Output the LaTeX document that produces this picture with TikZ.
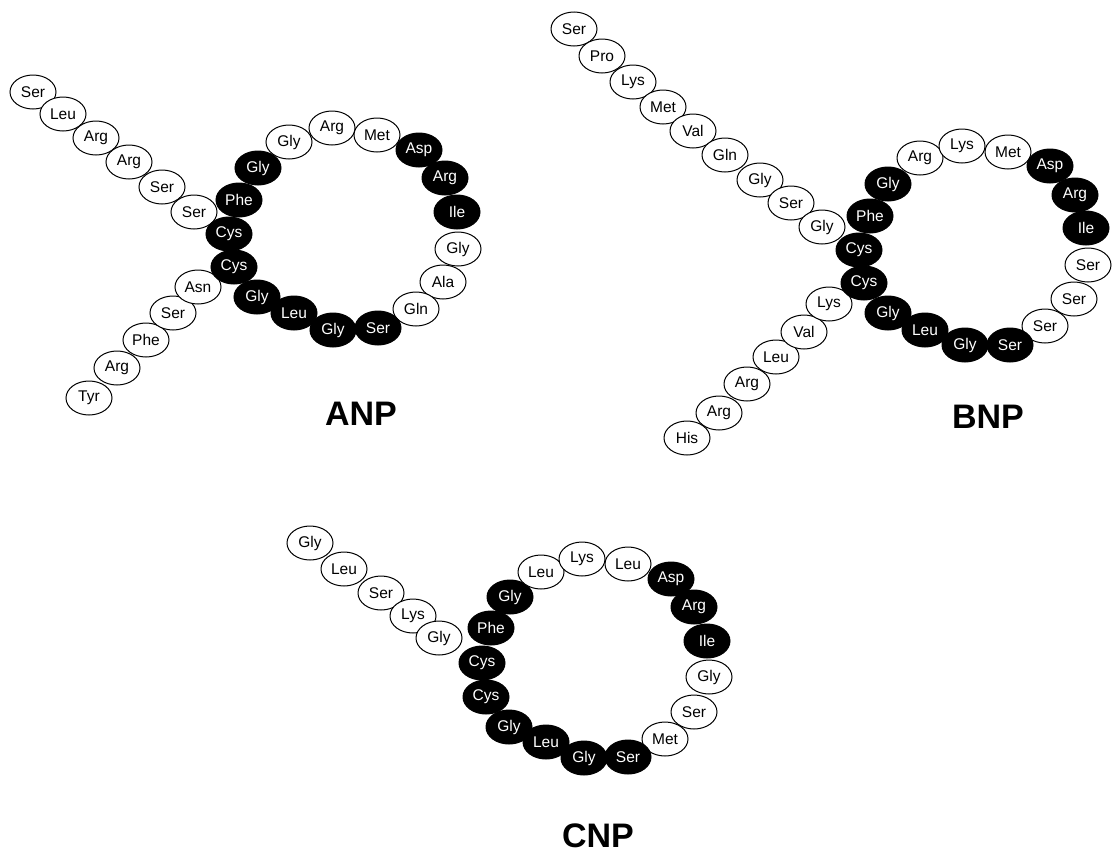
\documentclass[tikz,border=0pt]{standalone}
\usepackage{fontspec}
\setmainfont{Liberation Sans}
\usetikzlibrary{shapes.geometric}
\tikzset{
  res/.style={ellipse, draw=black, line width=1pt, minimum width=46pt, minimum height=34pt, inner sep=0pt, font=\fontsize{15.5}{18}\selectfont},
  wres/.style={res, fill=white, text=black},
  bres/.style={res, fill=black, text=white},
  title/.style={font=\fontsize{34}{40}\selectfont\bfseries}
}
\begin{document}
\begin{tikzpicture}[x=1pt,y=-1pt]
\useasboundingbox (0,0) rectangle (1113,854);
% ---------------- ANP ----------------
\foreach \n/\x/\y/\t in {t1/33/92/Ser,t2/63/114/Leu,t3/96/138/Arg,t4/129/162/Arg,t5/162/187/Ser,t6/194/212/Ser}
  \node[wres] (anp-\n) at (\x,\y) {\t};
\foreach \n/\x/\y/\t in {u1/89/398/Tyr,u2/117/368/Arg,u3/146/340/Phe,u4/173/313/Ser,u5/198/287/Asn}
  \node[wres] (anp-\n) at (\x,\y) {\t};
\foreach \n/\x/\y/\t/\s in {r1/229/234/Cys/bres,r2/239/200/Phe/bres,r3/258/168/Gly/bres,r4/289/142/Gly/wres,r5/332/128/Arg/wres,r6/377/135/Met/wres,r7/419/150/Asp/bres,r8/445/178/Arg/bres,r9/457/212/Ile/bres,r10/458/249/Gly/wres,r11/443/282/Ala/wres,r12/416/309/Gln/wres,r13/378/328/Ser/bres,r14/333/330/Gly/bres,r15/294/313/Leu/bres,r16/257/297/Gly/bres,r17/234/267/Cys/bres}
  \node[\s] (anp-\n) at (\x,\y) {\t};
\node[title] (anp) at (361,414) {ANP};
% ---------------- BNP ----------------
\foreach \n/\x/\y/\t in {t1/574/29/Ser,t2/602/56/Pro,t3/633/82/Lys,t4/663/107/Met,t5/693/131/Val,t6/725/155/Gln,t7/760/180/Gly,t8/791/203/Ser,t9/822/227/Gly}
  \node[wres] (bnp-\n) at (\x,\y) {\t};
\foreach \n/\x/\y/\t in {u1/687/438/His,u2/719/413/Arg,u3/747/384/Arg,u4/776/357/Leu,u5/804/332/Val,u6/829/304/Lys}
  \node[wres] (bnp-\n) at (\x,\y) {\t};
\foreach \n/\x/\y/\t/\s in {r1/859/250/Cys/bres,r2/870/216/Phe/bres,r3/888/184/Gly/bres,r4/920/158/Arg/wres,r5/962/146/Lys/wres,r6/1008/152/Met/wres,r7/1050/166/Asp/bres,r8/1075/195/Arg/bres,r9/1086/228/Ile/bres,r10/1088/265/Ser/wres,r11/1074/299/Ser/wres,r12/1045/326/Ser/wres,r13/1010/345/Ser/bres,r14/965/345/Gly/bres,r15/925/330/Leu/bres,r16/888/313/Gly/bres,r17/864/283/Cys/bres}
  \node[\s] (bnp-\n) at (\x,\y) {\t};
\node[title] (bnp) at (988,417) {BNP};
% ---------------- CNP ----------------
\foreach \n/\x/\y/\t in {t1/310/543/Gly,t2/344/569/Leu,t3/381/593/Ser,t4/413/616/Lys,t5/439/638/Gly}
  \node[wres] (cnp-\n) at (\x,\y) {\t};
\foreach \n/\x/\y/\t/\s in {r1/482/663/Cys/bres,r2/491/628/Phe/bres,r3/510/597/Gly/bres,r4/541/572/Leu/wres,r5/582/559/Lys/wres,r6/628/564/Leu/wres,r7/671/579/Asp/bres,r8/694/607/Arg/bres,r9/707/641/Ile/bres,r10/709/677/Gly/wres,r11/694/712/Ser/wres,r12/665/739/Met/wres,r13/628/757/Ser/bres,r14/584/758/Gly/bres,r15/546/742/Leu/bres,r16/509/727/Gly/bres,r17/486/697/Cys/bres}
  \node[\s] (cnp-\n) at (\x,\y) {\t};
\node[title] (cnp) at (598,836) {CNP};
\end{tikzpicture}
\end{document}
